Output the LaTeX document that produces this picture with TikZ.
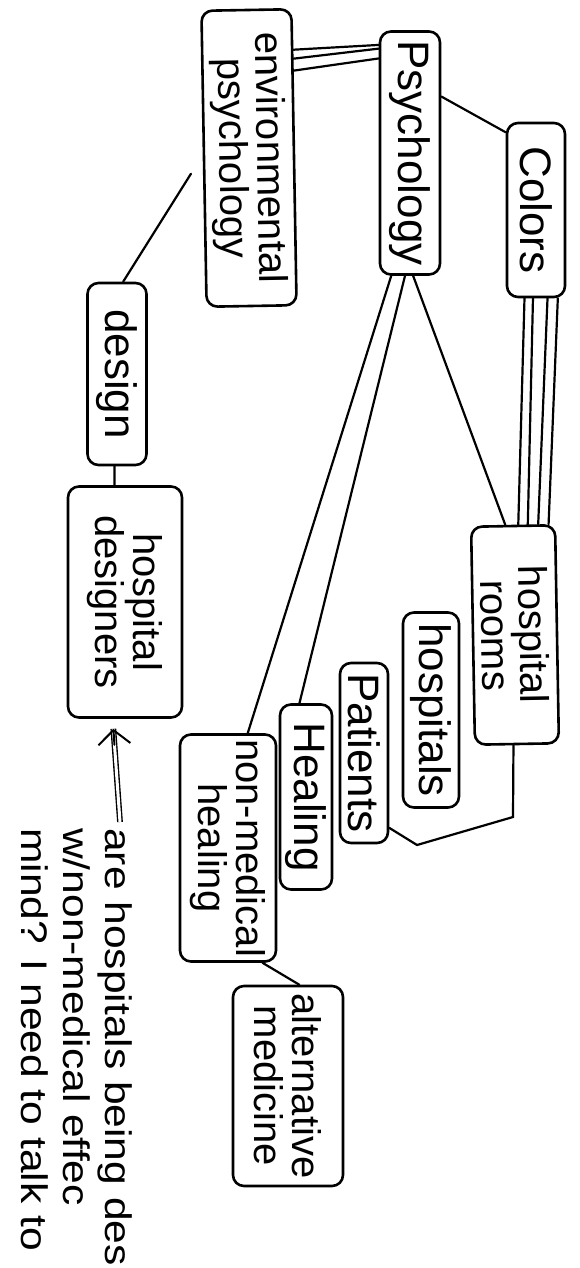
\documentclass[tikz,border=0pt]{standalone}
\usepackage{fontspec}
\newfontfamily\hw{Liberation Sans}
\newfontfamily\hwq[FakeStretch=1.15]{Liberation Sans}
\usetikzlibrary{calc,arrows.meta}
\begin{document}
\begin{tikzpicture}[x=1pt,y=-1pt,
  cbox/.style={draw, line width=2.6pt, rounded corners=11pt, inner sep=1pt, align=center,
    font=\hw\fontsize{40}{38}\selectfont},
  big/.style={font=\hw\fontsize{44}{40}\selectfont},
  link/.style={line width=2.2pt, line cap=round},
]
\useasboundingbox (0,0) rectangle (580,1268);
\clip (0,0) rectangle (580,1268);

\node[cbox, rotate=-89, minimum width=296pt, minimum height=90pt] (env) at (249,158) {environmental\\psychology};
\node[cbox, big, rotate=-90, minimum width=243pt, minimum height=60pt] (psy) at (410,153) {Psychology};
\node[cbox, big, rotate=-90, minimum width=174pt, minimum height=58pt] (col) at (536,210) {Colors};
\node[cbox, rotate=-89, minimum width=218pt, minimum height=84pt] (hr) at (515,635) {hospital\\rooms};
\node[cbox, big, rotate=-90, minimum width=195pt, minimum height=56pt] (hs) at (431,710) {hospitals};
\node[cbox, big, rotate=-90, minimum width=180pt, minimum height=48pt] (pat) at (364,753) {Patients};
\node[cbox, big, rotate=-90, minimum width=185pt, minimum height=52pt] (heal) at (306,797) {Healing};
\node[cbox, rotate=-90, minimum width=227pt, minimum height=96pt] (nmh) at (228,848) {non-medical\\healing};
\node[cbox, rotate=-90, minimum width=200pt, minimum height=110pt] (alt) at (288,1086) {alternative\\medicine};
\node[cbox, big, rotate=-90, minimum width=182pt, minimum height=59pt] (des) at (117,374) {design};
\node[cbox, rotate=-90, minimum width=231pt, minimum height=114pt] (hd) at (125,602) {hospital\\designers};

\node[rotate=-90, anchor=north west, inner sep=0pt, align=left,
  font=\hwq\fontsize{37}{42}\selectfont] (q) at (133,828)
  {are hospitals being des\\w/non-medical effec\\mind? I need to talk to};

% double arrow from the question to hospital designers
\coordinate (qt) at (120,822);
\coordinate (tip) at ($(hd.south east)!0.4!(hd.north east)+(0,10)$);
\draw[line width=1.4pt, double distance=3pt] (qt) -- (tip);
\draw[line width=2pt, line cap=round, -{Straight Barb[length=14pt,width=32pt]}] ($(tip)!16pt!(qt)$) -- (tip);

% environmental psychology -- Psychology (triple line)
\draw[link] ($(env.north west)!0.14!(env.north east)$) -- ($(psy.south west)!0.06!(psy.south east)$);
\draw[link] ($(env.north west)!0.17!(env.north east)$) -- ($(psy.south west)!0.075!(psy.south east)$);
\draw[link] ($(env.north west)!0.21!(env.north east)$) -- ($(psy.south west)!0.115!(psy.south east)$);
% Psychology -- Colors
\draw[link] ($(psy.north west)!0.27!(psy.north east)$) -- ($(col.south west)!0.06!(col.south east)$);
% Colors -- hospital rooms (four lines)
\foreach \a/\b in {0.31/0.56, 0.45/0.67, 0.69/0.79, 0.86/0.91}
  \draw[link] ($(col.south east)!\a!(col.north east)$) -- ($(hr.south west)!\b!(hr.north west)$);
% Psychology -- hospital rooms, Healing, non-medical healing
\draw[link] ($(psy.south east)!0.55!(psy.north east)$) -- ($(hr.south west)!0.41!(hr.north west)$);
\draw[link] ($(psy.south east)!0.42!(psy.north east)$) -- ($(heal.south west)!0.38!(heal.north west)$);
\draw[link] ($(psy.south east)!0.2!(psy.north east)$) -- ($(nmh.south west)!0.7!(nmh.north west)$);
% hospital rooms -- Patients
\draw[link] ($(hr.south east)!0.46!(hr.north east)$) -- (513,817) -- (417,845) -- ($(pat.north west)!0.91!(pat.north east)$);
% non-medical healing -- alternative medicine
\draw[link] ($(nmh.south east)!0.85!(nmh.north east)$) -- ($(alt.south west)!0.6!(alt.north west)$);
% design -- environmental psychology
\draw[link] ($(des.south west)!0.6!(des.north west)$) -- ($(env.south west)!0.55!(env.south east)+(-12,0)$);
% design -- hospital designers
\draw[link] ($(des.south east)!0.46!(des.north east)$) -- ($(hd.south west)!0.41!(hd.north west)$);
\end{tikzpicture}
\end{document}
